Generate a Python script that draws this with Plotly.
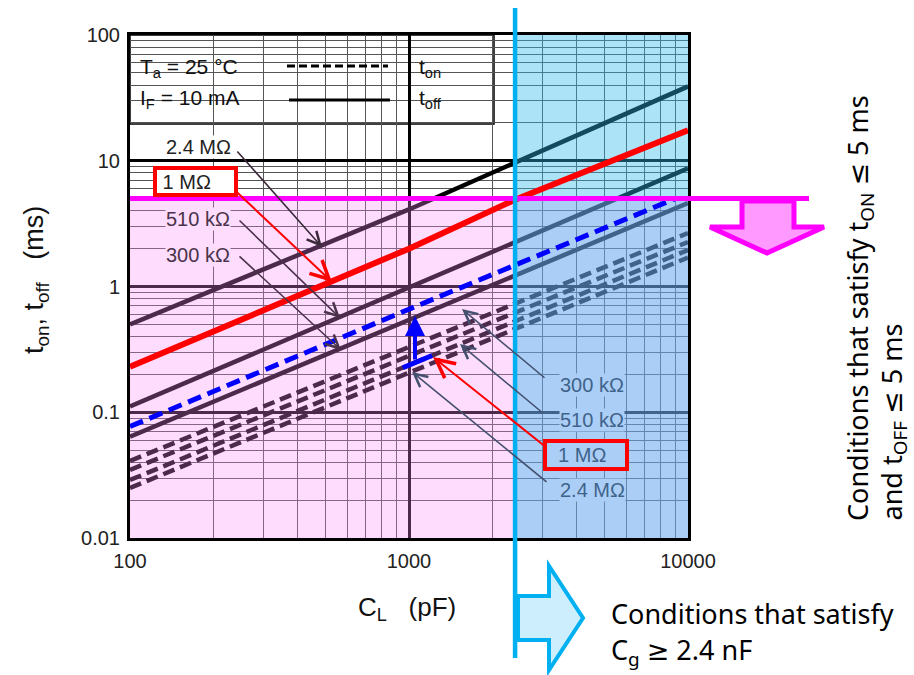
import plotly.graph_objects as go

# ---------------- data : load capacitance C_L (pF) vs switching time (ms) ----------------
cap_pf = [100, 1000, 10000]

# t_off (solid) for each gate-source resistor
toff_2400k = [0.50, 4.1, 39.0]
toff_510k = [0.111, 0.98, 8.7]
toff_300k = [0.064, 0.54, 4.6]

# t_off for 1 MOhm (highlighted in red)
cap_1m = [100, 1000, 2400, 10000]
toff_1000k = [0.23, 2.0, 4.9, 17.5]

# t_on (dashed) for each gate-source resistor
ton_300k = [0.041, 0.33, 2.66]
ton_510k = [0.0348, 0.28, 2.26]
ton_1000k = [0.0289, 0.237, 1.95]
ton_2400k = [0.025, 0.206, 1.70]

# t_on for 1 MOhm including design margin (blue dashed)
cap_margin = [100, 1000, 9000]
ton_margin = [0.077, 0.66, 5.0]

# piece of the 1 MOhm t_on curve marked in blue
mark_cap = [950, 1210]
mark_ton = [0.226, 0.283]

# limits
ton_limit_ms = 5
cg_limit_pf = 2400

x_major = [100, 1000, 10000]
x_major_text = ["100", "1000", "10000"]
y_major = [0.01, 0.1, 1, 10, 100]
y_major_text = ["0.01", "0.1", "1", "10", "100"]
x_minor = [m * d for d in (100, 1000) for m in range(2, 10)]
y_minor = [m * d for d in (0.01, 0.1, 1, 10) for m in range(2, 10)]

# ---------------- geometry helpers (pixel -> paper / log-axis units) ----------------
L, R, T, B = 130, 688, 35, 538
W, H = 914, 675


def xp(px):
    return (px - L) / (R - L)


def yp(py):
    return (B - py) / (B - T)


def lx(px):
    return 2 + (px - L) / ((R - L) / 2)


def ly(py):
    return 2 - (py - T) / ((B - T) / 4)


ARIAL = "Liberation Sans, Arial, sans-serif"
GOTHIC = "Noto Sans, DejaVu Sans, sans-serif"

PINK_FILL = "rgba(250,140,250,0.30)"
BLUE_FILL = "rgba(47,185,235,0.40)"
PINK_BG = "#fddcfd"
BLUE_BG = "#abcef6"
PINK_TXT = "#4a334a"
BLUE_TXT = "#40638b"

fig = go.Figure()

solid = dict(color="black", width=4.5)
dashed = dict(color="black", width=4.5, dash="12px,6px")

for y in (toff_2400k, toff_510k, toff_300k):
    fig.add_trace(go.Scatter(x=cap_pf, y=y, mode="lines", line=solid,
                             hoverinfo="skip", showlegend=False))
for y in (ton_300k, ton_510k, ton_1000k, ton_2400k):
    fig.add_trace(go.Scatter(x=cap_pf, y=y, mode="lines", line=dashed,
                             hoverinfo="skip", showlegend=False))

# shaded regions: t <= 5 ms (pink) and C >= 2.4 nF (blue)
fig.add_trace(go.Scatter(x=[90, 11000, 11000, 90, 90],
                         y=[0.009, 0.009, ton_limit_ms, ton_limit_ms, 0.009],
                         mode="lines", fill="toself", fillcolor=PINK_FILL,
                         line=dict(width=0), hoverinfo="skip", showlegend=False))
fig.add_trace(go.Scatter(x=[cg_limit_pf, 11000, 11000, cg_limit_pf, cg_limit_pf],
                         y=[0.009, 0.009, 110, 110, 0.009],
                         mode="lines", fill="toself", fillcolor=BLUE_FILL,
                         line=dict(width=0), hoverinfo="skip", showlegend=False))

# highlighted curves on top
fig.add_trace(go.Scatter(x=cap_1m, y=toff_1000k, mode="lines",
                         line=dict(color="#ff0000", width=6),
                         hoverinfo="skip", showlegend=False))
fig.add_trace(go.Scatter(x=cap_margin, y=ton_margin, mode="lines",
                         line=dict(color="#0000ff", width=5, dash="14px,7px"),
                         hoverinfo="skip", showlegend=False))
fig.add_trace(go.Scatter(x=mark_cap, y=mark_ton, mode="lines",
                         line=dict(color="#0000ff", width=5),
                         hoverinfo="skip", showlegend=False))

shapes = [
    # condition box
    dict(type="rect", xref="paper", yref="paper", x0=0, x1=xp(494), y0=yp(124), y1=1,
         fillcolor="white", line=dict(color="black", width=1.5), layer="between"),
    dict(type="line", xref="paper", yref="paper", x0=xp(287), x1=xp(388), y0=yp(66), y1=yp(66),
         line=dict(color="black", width=3, dash="8px,4px")),
    dict(type="line", xref="paper", yref="paper", x0=xp(289), x1=xp(390), y0=yp(100), y1=yp(100),
         line=dict(color="black", width=3)),
    # 5 ms limit line and arrow
    dict(type="line", xref="paper", yref="y", x0=0, x1=xp(809), y0=ton_limit_ms, y1=ton_limit_ms,
         line=dict(color="#ff00ff", width=5), layer="above"),
    dict(type="path", xref="paper", yref="paper", layer="above",
         path="M {0},{1} L {0},{2} L {3},{2} L {4},{5} L {6},{2} L {7},{2} L {7},{1} Z".format(
             xp(742), yp(201), yp(227), xp(710), xp(767), yp(253), xp(824), xp(794)),
         fillcolor="#ff99ff", line=dict(color="#ff00ff", width=5)),
    # 2.4 nF limit line and arrow
    dict(type="line", xref="x", yref="paper", x0=cg_limit_pf, x1=cg_limit_pf, y0=yp(658), y1=yp(8),
         line=dict(color="#00b0f0", width=4.5), layer="above"),
    dict(type="path", xref="paper", yref="paper", layer="above",
         path="M {0},{1} L {2},{1} L {2},{3} L {4},{5} L {2},{6} L {2},{7} L {0},{7} Z".format(
             xp(518), yp(596), xp(549), yp(566), xp(583), yp(618), yp(670), yp(640)),
         fillcolor="#cdeefc", line=dict(color="#00b0f0", width=4)),
]

annotations = []


def label(text, cx, cy, bg, color, **kw):
    d = dict(x=xp(cx), y=yp(cy), xref="paper", yref="paper", text=text, showarrow=False,
             bgcolor=bg, font=dict(family=ARIAL, size=20, color=color),
             xanchor="center", yanchor="middle", borderpad=0)
    d.update(kw)
    annotations.append(d)


def arrow(tip, tail, color, width=1.6, size=1.6, head=5):
    annotations.append(dict(x=lx(tip[0]), y=ly(tip[1]), ax=lx(tail[0]), ay=ly(tail[1]),
                            xref="x", yref="y", axref="x", ayref="y", text="",
                            showarrow=True, arrowhead=head, arrowsize=size,
                            arrowwidth=width, arrowcolor=color, standoff=0))


# arrows from resistor labels to curves
arrow((322, 247), (236, 150), "#3a2a3a")
arrow((340, 318), (238, 219), PINK_TXT)
arrow((341, 350), (238, 255), PINK_TXT)
arrow((332, 282), (224, 180), "#ff0000", width=2, size=1.8)
arrow((462, 309), (546, 379), "#44506e")
arrow((460, 344), (544, 414), "#44506e")
arrow((412, 372), (548, 483), "#44506e")
arrow((433, 357), (552, 452), "#ff0000", width=2, size=1.8)
# margin arrow (1 MOhm t_on -> blue dashed)
arrow((415, 316), (415, 361), "#0000ff", width=4, size=1, head=2)

# resistor labels
label("2.4 MΩ", 198, 147, "white", "#222222")
label("\u00a01 MΩ", 195.5, 182, "white", "#222222", width=77, height=23, align="left",
      bordercolor="#ff0000", borderwidth=4)
label("510 kΩ", 198, 219, PINK_BG, PINK_TXT)
label("300 kΩ", 198, 255, PINK_BG, PINK_TXT)
label("300 kΩ", 592, 385, BLUE_BG, BLUE_TXT)
label("510 kΩ", 592, 420, BLUE_BG, BLUE_TXT)
label("\u00a0\u00a01 MΩ", 586, 455, BLUE_BG, BLUE_TXT, width=78, height=24, align="left",
      bordercolor="#ff0000", borderwidth=4)
label("2.4 MΩ", 592, 490, BLUE_BG, BLUE_TXT)

# condition box texts
for txt, cx, cy in (("T<sub>a</sub> = 25 °C", 138, 68), ("I<sub>F</sub> = 10 mA", 138, 99),
                    ("t<sub>on</sub>", 417, 68), ("t<sub>off</sub>", 417, 99)):
    annotations.append(dict(x=xp(cx), y=yp(cy), xref="paper", yref="paper", text=txt,
                            showarrow=False, xanchor="left", yanchor="middle",
                            font=dict(family=ARIAL, size=21, color="#111111")))

# axis titles
annotations.append(dict(x=xp(407), y=yp(608), xref="paper", yref="paper",
                        xanchor="center", yanchor="middle",
                        text="C<sub>L</sub>\u00a0\u00a0\u00a0(pF)", showarrow=False,
                        font=dict(family=ARIAL, size=26, color="#111111")))
annotations.append(dict(x=xp(36), y=yp(280), xref="paper", yref="paper", textangle=-90,
                        xanchor="center", yanchor="middle",
                        text="t<sub>on</sub>, t<sub>off</sub>\u00a0\u00a0\u00a0(ms)", showarrow=False,
                        font=dict(family=ARIAL, size=27, color="#111111")))

# condition captions
CAP_FONT = dict(family=GOTHIC, size=27, color="black")
annotations.append(dict(x=xp(609), y=yp(613), xref="paper", yref="paper",
                        text="Conditions that satisfy", showarrow=False, xanchor="left",
                        yanchor="middle", font=CAP_FONT))
annotations.append(dict(x=xp(609), y=yp(651), xref="paper", yref="paper",
                        text="C<sub>g</sub> ≥ 2.4 nF", showarrow=False, xanchor="left",
                        yanchor="middle", font=CAP_FONT))
annotations.append(dict(x=xp(859), y=yp(523), xref="paper", yref="paper", textangle=-90,
                        text="Conditions that satisfy t<sub>ON</sub> ≤ 5 ms", showarrow=False,
                        xanchor="center", yanchor="bottom", font=CAP_FONT))
annotations.append(dict(x=xp(893), y=yp(523), xref="paper", yref="paper", textangle=-90,
                        text="and t<sub>OFF</sub> ≤ 5 ms", showarrow=False,
                        xanchor="center", yanchor="bottom", font=CAP_FONT))

axis_common = dict(type="log", showline=True, linecolor="black", linewidth=3, mirror=True,
                   showgrid=True, gridcolor="black", gridwidth=2.5, zeroline=False,
                   ticks="outside", ticklen=3, tickcolor="rgba(0,0,0,0)",
                   tickfont=dict(family=ARIAL, size=20, color="#222222"),
                   tickmode="array")

fig.update_layout(
    width=W, height=H,
    margin=dict(l=L, r=W - R, t=T, b=H - B),
    paper_bgcolor="white", plot_bgcolor="white",
    xaxis=dict(range=[2, 4], tickvals=x_major, ticktext=x_major_text,
               minor=dict(tickmode="array", tickvals=x_minor, showgrid=True,
                          gridcolor="#555555", gridwidth=1, ticks=""),
               **axis_common),
    yaxis=dict(range=[-2, 2], tickvals=y_major, ticktext=y_major_text,
               minor=dict(tickmode="array", tickvals=y_minor, showgrid=True,
                          gridcolor="#555555", gridwidth=1, ticks=""),
               **axis_common),
    shapes=shapes,
    annotations=annotations,
    showlegend=False,
)

fig.write_html("out.html")
